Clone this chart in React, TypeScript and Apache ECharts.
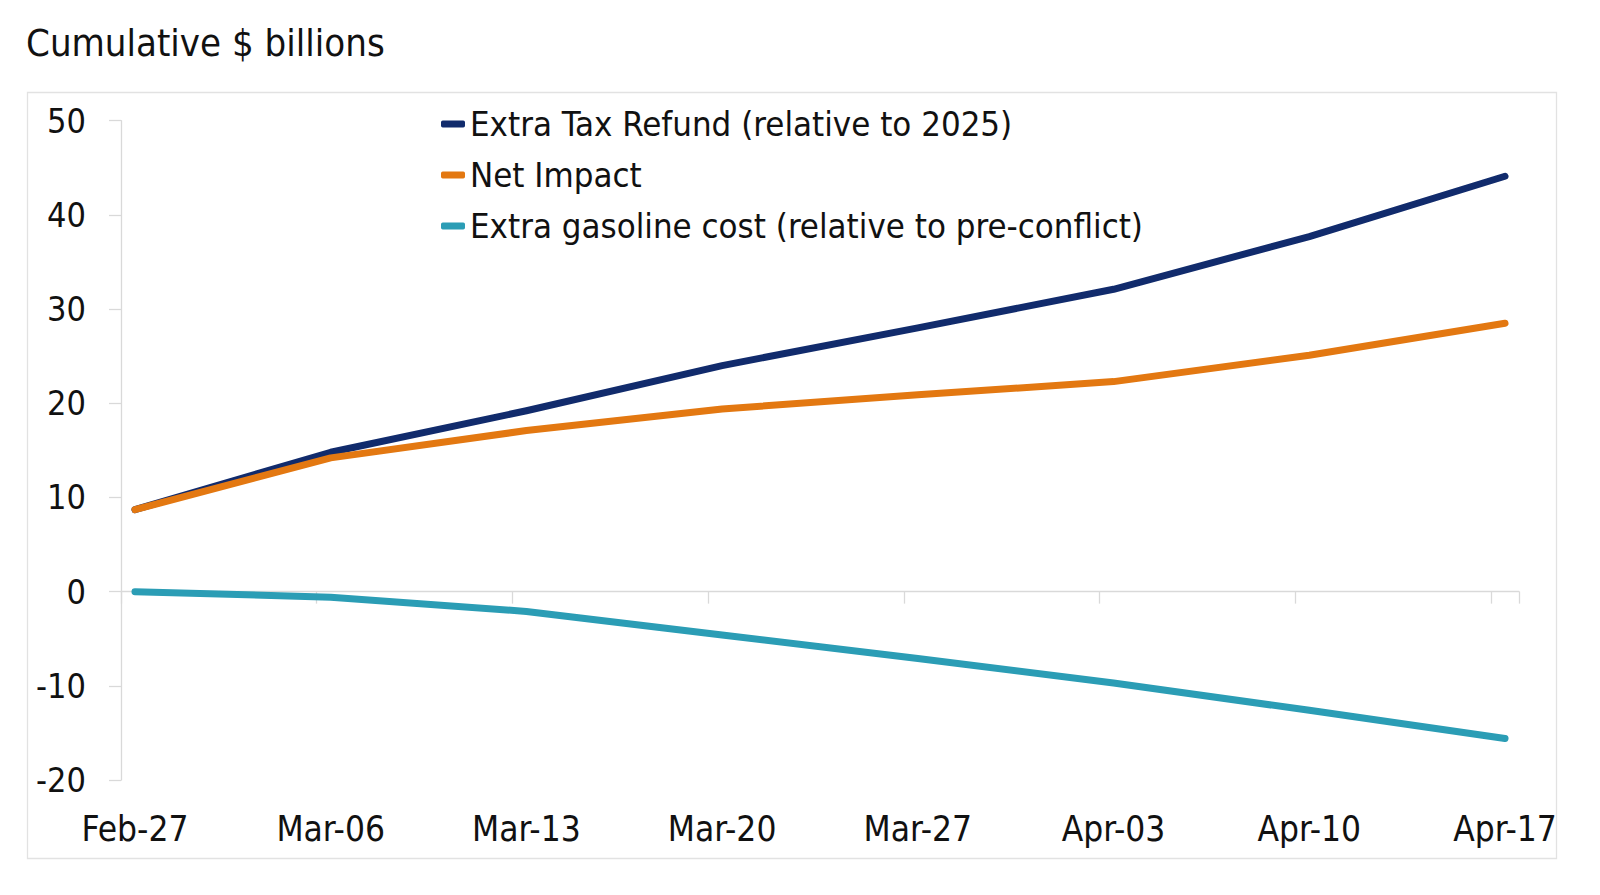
import React, { useEffect, useRef } from "react";
import * as echarts from "echarts";

// Weekly dates (x axis) and cumulative values in $ billions
const weeks = ["Feb-27", "Mar-06", "Mar-13", "Mar-20", "Mar-27", "Apr-03", "Apr-10", "Apr-17"];
const extraTaxRefund = [8.7, 14.8, 19.2, 24.0, 28.0, 32.1, 37.7, 44.1];
const netImpact = [8.7, 14.2, 17.1, 19.4, 20.9, 22.3, 25.1, 28.5];
const extraGasolineCost = [0, -0.6, -2.1, -4.6, -7.1, -9.7, -12.6, -15.6];

const seriesNames = [
  "Extra Tax Refund (relative to 2025)",
  "Net Impact",
  "Extra gasoline cost (relative to pre-conflict)",
];
const yTicks = { min: -20, max: 50, interval: 10 };

// The horizontal axis is a daily date axis: one band per day, labelled weekly
const DAYS_PER_WEEK = 7;
const dayCount = weeks.length * DAYS_PER_WEEK - (DAYS_PER_WEEK - 1);
const dayIndex = Array.from({ length: dayCount }, (_, i) => String(i));
const toDaily = (weekly: number[]) =>
  dayIndex.map((_, i) => (i % DAYS_PER_WEEK === 0 ? weekly[i / DAYS_PER_WEEK] : null));

const FONT = '"DejaVu Sans Condensed", "Liberation Sans Narrow", "DejaVu Sans", sans-serif';
const TEXT = "#111111";
const AXIS = "#d9d9d9";
const COLORS = ["#112b6c", "#e37811", "#2b9db5"];

export default function App() {
  const ref = useRef<HTMLDivElement>(null);

  useEffect(() => {
    if (!ref.current) return;
    const chart = echarts.init(ref.current, undefined, { renderer: "svg" });
    const weekly = [extraTaxRefund, netImpact, extraGasolineCost];

    chart.setOption({
      animation: false,
      backgroundColor: "#ffffff",
      title: {
        text: "Cumulative $ billions",
        left: 21,
        top: 19,
        textStyle: { fontFamily: FONT, fontSize: 38, fontWeight: "normal", color: TEXT },
      },
      graphic: [
        {
          type: "rect",
          z: -1,
          shape: { x: 27.5, y: 92.5, width: 1529, height: 766 },
          style: { fill: "none", stroke: "#e2e2e2", lineWidth: 1.3 },
        },
      ],
      legend: {
        orient: "vertical",
        left: 441,
        top: 104,
        padding: 0,
        itemWidth: 24,
        itemHeight: 7,
        itemGap: 11,
        icon: "roundRect",
        data: seriesNames,
        textStyle: { fontFamily: FONT, fontSize: 34.5, color: TEXT, lineHeight: 40 },
      },
      grid: { left: 121, right: 81, top: 120.7, bottom: 115, containLabel: false },
      xAxis: [
        {
          type: "category",
          data: dayIndex,
          boundaryGap: true,
          axisLine: { onZero: true, lineStyle: { color: AXIS, width: 1.3 } },
          axisTick: {
            show: true,
            interval: (i: number) => i % DAYS_PER_WEEK === 0,
            length: 12,
            lineStyle: { color: AXIS, width: 1.3 },
          },
          axisLabel: { show: false },
          splitLine: { show: false },
        },
        {
          type: "category",
          data: dayIndex,
          boundaryGap: true,
          position: "bottom",
          axisLine: { show: false, onZero: false },
          axisTick: { show: false },
          axisLabel: {
            interval: (i: number) => i % DAYS_PER_WEEK === 0,
            formatter: (v: string) => weeks[Number(v) / DAYS_PER_WEEK] ?? "",
            margin: 31,
            fontFamily: FONT,
            fontSize: 35,
            color: TEXT,
          },
          splitLine: { show: false },
        },
      ],
      yAxis: {
        type: "value",
        min: yTicks.min,
        max: yTicks.max,
        interval: yTicks.interval,
        axisLine: { show: true, lineStyle: { color: AXIS, width: 1.3 } },
        axisTick: { show: true, length: 12, lineStyle: { color: AXIS, width: 1.3 } },
        axisLabel: { margin: 35, fontFamily: FONT, fontSize: 34, color: TEXT },
        splitLine: { show: false },
      },
      series: seriesNames.map((name, s) => ({
        name,
        type: "line",
        xAxisIndex: 0,
        data: toDaily(weekly[s]),
        connectNulls: true,
        showSymbol: false,
        symbol: "none",
        color: COLORS[s],
        lineStyle: { color: COLORS[s], width: 7, cap: "round", join: "round" },
        emphasis: { disabled: true },
      })),
    });

    return () => chart.dispose();
  }, []);

  return (
    <div
      ref={ref}
      style={{ position: "fixed", left: 0, top: 0, width: 1600, height: 895, background: "#fff" }}
    />
  );
}
